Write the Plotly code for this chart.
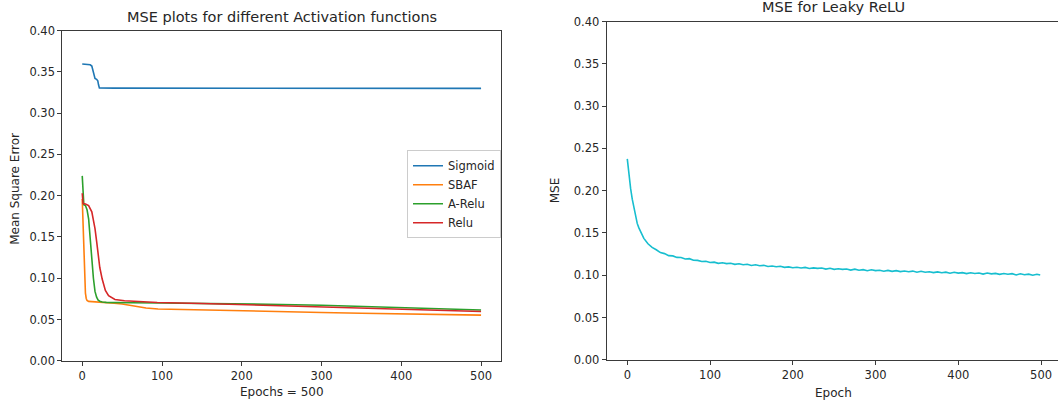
import plotly.graph_objects as go

# ---------------- data (left plot) ----------------
sigmoid_epochs = [0, 4, 8, 10, 12, 13, 14, 15, 16, 18, 19.5, 20.5, 21.5, 40, 100, 200, 300, 400, 500]
sigmoid_mse = [0.3595, 0.3593, 0.3590, 0.3585, 0.3570, 0.3530, 0.3470, 0.3430, 0.3420, 0.3410,
               0.3390, 0.3340, 0.3305, 0.3303, 0.3302, 0.3301, 0.3300, 0.3300, 0.3300]

sbaf_epochs = [0, 1, 2, 3, 4, 5, 6, 8, 12, 20, 30, 40, 50, 60, 70, 80, 95, 120, 150,
               200, 250, 300, 350, 400, 450, 500]
sbaf_mse = [0.196, 0.168, 0.132, 0.100, 0.082, 0.0755, 0.0730, 0.0720, 0.0716, 0.0712, 0.0705,
            0.0697, 0.0688, 0.0672, 0.0655, 0.0640, 0.0628, 0.0622, 0.0616, 0.0606, 0.0595,
            0.0586, 0.0576, 0.0568, 0.0560, 0.0553]

arelu_epochs = [0, 1, 2, 4, 6, 8, 10, 12, 14, 16, 18, 20, 22, 25, 30, 40, 60, 100, 150,
                200, 250, 300, 350, 400, 450, 500]
arelu_mse = [0.224, 0.192, 0.189, 0.188, 0.183, 0.172, 0.152, 0.124, 0.100, 0.084, 0.077,
             0.0735, 0.0722, 0.0713, 0.0708, 0.0705, 0.0703, 0.0701, 0.0697, 0.0690, 0.0683,
             0.0674, 0.0660, 0.0643, 0.0626, 0.0616]

relu_epochs = [0, 1, 4, 8, 12, 14, 16, 18, 20, 22, 25, 29, 33, 37, 41, 53, 70, 94, 150,
               200, 250, 300, 350, 400, 450, 500]
relu_mse = [0.203, 0.1905, 0.190, 0.188, 0.1805, 0.172, 0.160, 0.145, 0.128, 0.113, 0.099,
            0.0853, 0.0789, 0.0760, 0.0742, 0.0728, 0.0716, 0.0707, 0.0695, 0.0680, 0.0667,
            0.0653, 0.0639, 0.0626, 0.0612, 0.0598]

# ---------------- data (right plot) ----------------
leaky_epochs = [0, 1, 2, 3, 4, 6, 8, 10, 12, 14, 16, 18, 20] + list(range(25, 500, 5)) + [499]
leaky_mse = [0.2375, 0.2270, 0.2180, 0.2100, 0.2027, 0.1900, 0.1790, 0.1695, 0.1613, 0.1560,
             0.1515, 0.1475, 0.1436,
             0.1372, 0.1330, 0.1301, 0.1268, 0.1256, 0.1232, 0.1229, 0.1211, 0.1209, 0.1192,
             0.1196, 0.1178, 0.1176, 0.1162, 0.1166, 0.1150, 0.1155, 0.1141, 0.1147, 0.1138,
             0.1142, 0.1129, 0.1136, 0.1124, 0.1130, 0.1116, 0.1124, 0.1112, 0.1117, 0.1104,
             0.1110, 0.1101, 0.1106, 0.1093, 0.1099, 0.1088, 0.1094, 0.1085, 0.1093, 0.1080,
             0.1087, 0.1081, 0.1085, 0.1073, 0.1082, 0.1070, 0.1076, 0.1069, 0.1074, 0.1061,
             0.1072, 0.1060, 0.1066, 0.1054, 0.1064, 0.1055, 0.1059, 0.1048, 0.1057, 0.1046,
             0.1054, 0.1043, 0.1050, 0.1041, 0.1049, 0.1035, 0.1047, 0.1036, 0.1042, 0.1031,
             0.1040, 0.1030, 0.1037, 0.1024, 0.1035, 0.1025, 0.1031, 0.1019, 0.1030, 0.1021,
             0.1026, 0.1014, 0.1027, 0.1016, 0.1022, 0.1010, 0.1021, 0.1012, 0.1019, 0.1004,
             0.1017, 0.1006, 0.1013, 0.1001, 0.1012, 0.1003, 0.1010, 0.0999, 0.1009, 0.1004]

y_ticks = [0.00, 0.05, 0.10, 0.15, 0.20, 0.25, 0.30, 0.35, 0.40]
x_ticks = [0, 100, 200, 300, 400, 500]

FONT = "DejaVu Sans"
TXT = "#262626"
SPINE = "#3a3a3a"
W, H = 1058, 405
# the page as photographed maps paper rows as: screen_y = 6 + 0.964 * paper_y
Y_OFF, Y_SCALE = 6.0, 0.964

fig = go.Figure()
series = [
    ("Sigmoid", sigmoid_epochs, sigmoid_mse, "#1f77b4"),
    ("SBAF", sbaf_epochs, sbaf_mse, "#ff7f0e"),
    ("A-Relu", arelu_epochs, arelu_mse, "#2ca02c"),
    ("Relu", relu_epochs, relu_mse, "#d62728"),
]
for name, xs, ys, col in series:
    fig.add_trace(go.Scatter(x=xs, y=ys, mode="lines", name=name,
                             line=dict(color=col, width=1.6), xaxis="x", yaxis="y"))

fig.add_trace(go.Scatter(x=leaky_epochs, y=leaky_mse, mode="lines", name="Leaky ReLU",
                         showlegend=False, line=dict(color="#17becf", width=1.6),
                         xaxis="x2", yaxis="y2"))

axis_common = dict(showgrid=False, zeroline=False, showline=True, linecolor=SPINE, linewidth=1,
                   ticks="outside", ticklen=4, tickwidth=1, tickcolor=SPINE,
                   tickfont=dict(family=FONT, size=11.5, color=TXT))


def px(x):
    return x / W


def py(y):
    p = (y - Y_OFF) / Y_SCALE
    return 1 - p / H


fig.update_layout(
    width=W, height=H,
    margin=dict(l=0, r=0, t=0, b=0),
    paper_bgcolor="white", plot_bgcolor="white",
    font=dict(family=FONT, color=TXT),
    xaxis=dict(domain=[px(62.3), px(501)], range=[-25, 525], tickvals=x_ticks,
               mirror=True, anchor="y", **axis_common),
    yaxis=dict(domain=[py(359.3), py(29.5)], range=[0, 0.40], tickvals=y_ticks,
               tickformat=".2f", mirror=True, anchor="x", **axis_common),
    xaxis2=dict(domain=[px(606.6), 1.0], range=[-25, 520.5], tickvals=x_ticks,
                mirror=True, anchor="y2", **axis_common),
    yaxis2=dict(domain=[py(358.3), py(20.5)], range=[0, 0.40], tickvals=y_ticks,
                tickformat=".2f", mirror=False, anchor="x2", **axis_common),
    legend=dict(x=px(407), y=py(149), xanchor="left", yanchor="top",
                bgcolor="white", bordercolor="#cccccc", borderwidth=1,
                font=dict(family=FONT, size=11.5, color=TXT), itemwidth=30),
    showlegend=True,
)

annotations = [
    dict(text="MSE plots for different Activation functions", x=px(282), y=py(16),
         font=dict(size=14.5)),
    dict(text="MSE for Leaky ReLU", x=px(833.5), y=py(6), font=dict(size=14.5)),
    dict(text="Epochs = 500", x=px(281.7), y=py(390.7), font=dict(size=12)),
    dict(text="Epoch", x=px(833), y=py(391.7), font=dict(size=12)),
    dict(text="Mean Square Error", x=px(15), y=py(187.5), textangle=-90, font=dict(size=12)),
    dict(text="MSE", x=px(555), y=py(189), textangle=-90, font=dict(size=12)),
]
for a in annotations:
    a.update(xref="paper", yref="paper", xanchor="center", yanchor="middle", showarrow=False)
    a["font"].update(family=FONT, color=TXT)
fig.update_layout(annotations=annotations)

fig.write_html("out.html", config={"displayModeBar": False},
               post_script="document.body.style.margin='0';document.body.style.overflow='hidden';")
